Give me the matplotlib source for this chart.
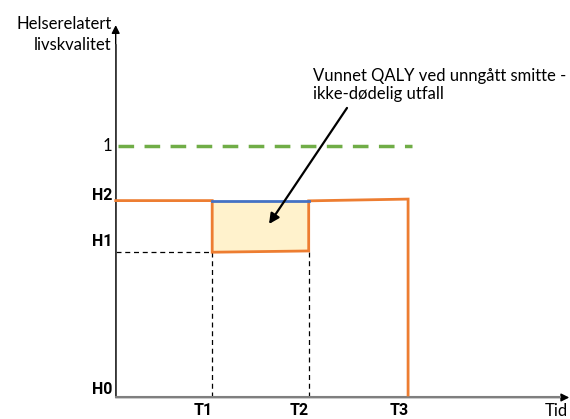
import matplotlib
matplotlib.use("Agg")
import matplotlib.pyplot as plt

# ---- data ----
t_labels = ["T1", "T2", "T3"]
t_values = [1.0, 2.0, 3.03]
h_labels = ["H0", "H1", "H2"]
h_values = [0.0, 0.578, 0.782]
full_health = 1.0

# orange path (time, quality)
path_t = [0.0, 1.0, 1.0, 2.0, 2.0, 3.03, 3.03]
path_q = [0.782, 0.782, 0.577, 0.582, 0.781, 0.788, 0.01]
# gained area (between T1 and T2)
gain_t = [1.0, 2.0]
gain_low = [0.577, 0.582]
gain_high = [0.782, 0.782]

annot_text = "Vunnet QALY ved unngått smitte -\nikke-dødelig utfall"
ylabel = "Helserelatert\nlivskvalitet"
xlabel = "Tid"

FONT = ["Lato", "DejaVu Sans"]
BOLD = ["Roboto", "DejaVu Sans"]
plt.rcParams["font.family"] = FONT

fig = plt.figure(figsize=(5.70, 4.19), dpi=100)
ax = fig.add_axes([0, 0, 1, 1])
ax.set_xlim(-1.199, 4.708)
ax.set_ylim(-0.0854, 1.5787)
ax.axis("off")

ORANGE = "#ED7D31"
BLUE = "#4472C4"
GREEN = "#70AD47"
AX = "#404040"

# axes with arrows
ax.annotate("", xy=(0, 1.479), xytext=(0, 0), arrowprops=dict(arrowstyle="-|>", color="black", lw=1.0, mutation_scale=12, shrinkA=0, shrinkB=0))
ax.annotate("", xy=(4.70, 0), xytext=(0, 0), arrowprops=dict(arrowstyle="-|>", color="black", lw=1.0, mutation_scale=12, shrinkA=0, shrinkB=0))
ax.plot([0, 0], [0, 1.4], color=AX, lw=1.2, zorder=3)
ax.plot([0, 4.6], [0, 0], color="#7f7f7f", lw=1.5, zorder=3)

# fill
ax.fill_between(gain_t, gain_low, gain_high, color="#FFF2CC", zorder=1, lw=0)

# green dashed line at 1
ax.plot([0.02, 3.07], [full_health, full_health], color=GREEN, lw=2.5, dashes=(4.5, 3.0), zorder=2)

# dashed black guides
ax.plot([0, t_values[0]], [h_values[1], h_values[1]], color="black", lw=0.9, ls=(0, (4, 3)), zorder=2)
ax.plot([t_values[0], t_values[0]], [0, h_values[1]], color="black", lw=0.9, ls=(0, (4, 3)), zorder=2)
ax.plot([t_values[1], t_values[1]], [0, h_values[1]], color="black", lw=0.9, ls=(0, (4, 3)), zorder=2)

# orange path
ax.plot(path_t, path_q, color=ORANGE, lw=2.0, zorder=4, solid_joinstyle="miter")
# blue top
ax.plot(gain_t, gain_high, color=BLUE, lw=2.0, zorder=5)

fs = 12
fsb = 11.5
# y labels
ax.text(-0.035, full_health, "1", ha="right", va="center", fontsize=fs)
ax.text(-0.03, h_values[2] + 0.022, h_labels[2], ha="right", va="center", fontsize=fsb, fontweight="bold", family=BOLD)
ax.text(-0.03, h_values[1] + 0.04, h_labels[1], ha="right", va="center", fontsize=fsb, fontweight="bold", family=BOLD)
ax.text(-0.03, h_values[0] + 0.03, h_labels[0], ha="right", va="center", fontsize=fsb, fontweight="bold", family=BOLD)

for tv, tl in zip(t_values, t_labels):
    ax.text(tv - 0.095, -0.050, tl, ha="center", va="center", fontsize=fsb, fontweight="bold", family=BOLD)

ax.text(4.57, -0.052, xlabel, ha="center", va="center", fontsize=fs)
ax.text(-0.04, 1.4416, ylabel, ha="right", va="center", fontsize=fs, linespacing=1.35)

# annotation
ax.text(2.045, 1.241, annot_text, ha="left", va="center", fontsize=fs, linespacing=1.2, zorder=6)
ax.annotate("", xy=(1.589, 0.689), xytext=(2.397, 1.150),
            arrowprops=dict(arrowstyle="-|>", color="black", lw=1.6, mutation_scale=15, shrinkA=0, shrinkB=0),
            zorder=6)

fig.savefig("out.png", dpi=100)
